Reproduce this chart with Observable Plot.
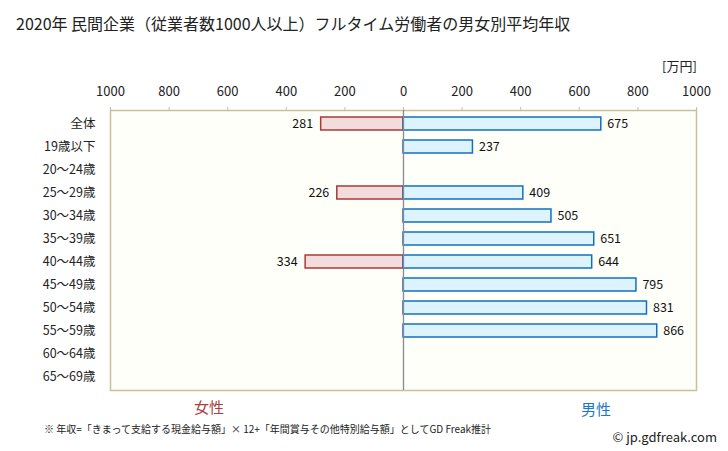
<!DOCTYPE html>
<html><head><meta charset="utf-8">
<script src="https://cdn.jsdelivr.net/npm/d3@7"></script>
<script src="https://cdn.jsdelivr.net/npm/@observablehq/plot@0.6"></script>
<style>
body{margin:0;background:#fff;font-family:"Noto Sans CJK JP",sans-serif;}
#wrap{position:relative;width:728px;height:451px;overflow:hidden;}
.t{position:absolute;white-space:nowrap;color:#222;}
</style></head>
<body><div id="wrap"></div>
<script>
const categories = ["全体","19歳以下","20〜24歳","25〜29歳","30〜34歳","35〜39歳","40〜44歳","45〜49歳","50〜54歳","55〜59歳","60〜64歳","65〜69歳"];
const female = [281,null,null,226,null,null,334,null,null,null,null,null];
const male = [675,237,null,409,505,651,644,795,831,866,null,null];
const ticks = [-1000,-800,-600,-400,-200,0,200,400,600,800,1000];

const fData = categories.map((c,i)=>({c, v: female[i]})).filter(d=>d.v!=null);
const mData = categories.map((c,i)=>({c, v: male[i]})).filter(d=>d.v!=null);

const chart = Plot.plot({
  width:728, height:451,
  marginLeft:110, marginRight:32, marginTop:110, marginBottom:61,
  style:{fontFamily:'"Noto Sans CJK JP",sans-serif', fontSize:"13px", color:"#222", background:"transparent"},
  x:{domain:[-1000,1000], axis:null, label:null},
  y:{domain:categories, axis:null, label:null, paddingInner:0.45, paddingOuter:0.225},
  marks:[
    Plot.frame({fill:"#fffff9", stroke:"#c8bf9c", strokeWidth:1.5}),
    Plot.axisX(ticks,{anchor:"top", label:null, tickSize:4, tickPadding:11, stroke:"#c8bf9c", tickFormat:d=>String(Math.abs(d)), fontSize:13, fill:"#222"}),
    Plot.axisY({anchor:"left", label:null, tickSize:0, tickPadding:15, fontSize:12.5, fill:"#222"}),
    Plot.barX(fData,{x1:0, x2:d=>-d.v, y:"c", fill:"#f2dcdc", stroke:"#a83a3a", strokeWidth:1.5}),
    Plot.barX(mData,{x1:0, x2:"v", y:"c", fill:"#ddf4ff", stroke:"#1070c0", strokeWidth:1.5}),
    Plot.ruleX([0],{stroke:"#8a8a8a", strokeWidth:1.3}),
    Plot.text(fData,{x:d=>-d.v, y:"c", text:d=>String(d.v), textAnchor:"end", dx:-8, fontSize:12.5, fill:"#111"}),
    Plot.text(mData,{x:"v", y:"c", text:d=>String(d.v), textAnchor:"start", dx:6, fontSize:12.5, fill:"#111"})
  ]
});
const wrap = document.getElementById("wrap");
chart.style.position="absolute"; chart.style.left="0"; chart.style.top="0";
wrap.appendChild(chart);
function addText(txt, css){const d=document.createElement("div");d.className="t";d.textContent=txt;Object.assign(d.style,css);wrap.appendChild(d);}
addText("2020年 民間企業（従業者数1000人以上）フルタイム労働者の男女別平均年収",{left:"16px",top:"11px",fontSize:"16px"});
addText("[万円]",{left:"662px",top:"56px",fontSize:"13px"});
addText("女性",{left:"194px",top:"396px",fontSize:"15px",color:"#a84040"});
addText("男性",{left:"581px",top:"398px",fontSize:"15px",color:"#1a78c8"});
addText("※ 年収=「きまって支給する現金給与額」× 12+「年間賞与その他特別給与額」としてGD Freak推計",{left:"44px",top:"421px",fontSize:"10px"});
addText("© jp.gdfreak.com",{right:"11px",top:"427px",fontSize:"13px"});
</script></body></html>
